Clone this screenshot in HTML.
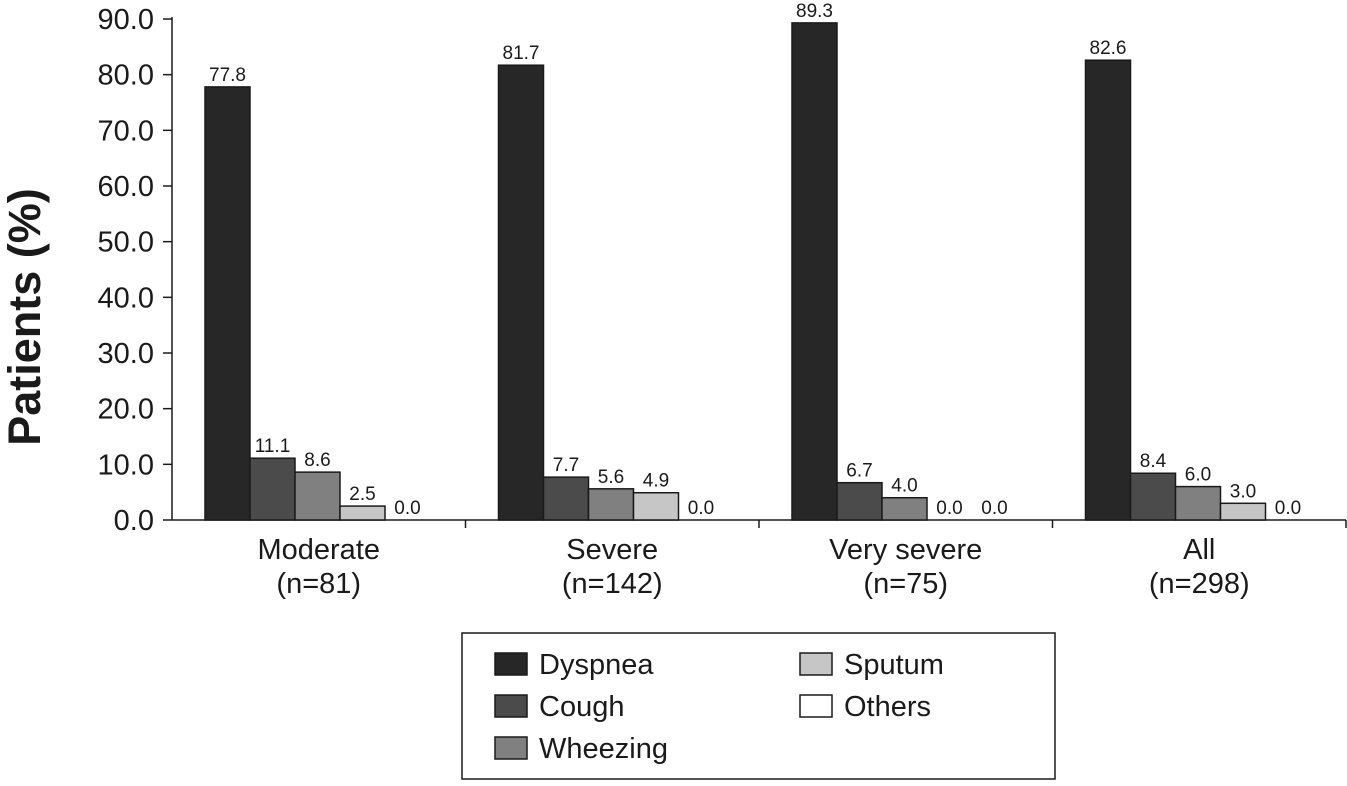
<!DOCTYPE html>
<html><head><meta charset="utf-8"><style>
body{margin:0;background:#fff;}
svg text{font-family:"Liberation Sans",Arial,sans-serif;fill:#1a1a1a;}
</style></head><body>
<svg id="chart" width="1347" height="781" xmlns="http://www.w3.org/2000/svg"></svg>
<script>
const categories=["Moderate","Severe","Very severe","All"];
const categoryN=["(n=81)","(n=142)","(n=75)","(n=298)"];
const seriesNames=["Dyspnea","Cough","Wheezing","Sputum","Others"];
const dyspnea=[77.8,81.7,89.3,82.6];
const cough=[11.1,7.7,6.7,8.4];
const wheezing=[8.6,5.6,4.0,6.0];
const sputum=[2.5,4.9,0.0,3.0];
const others=[0.0,0.0,0.0,0.0];
const yTicks=[0,10,20,30,40,50,60,70,80,90];

const series=[dyspnea,cough,wheezing,sputum,others];
const colors=["#272727","#4b4b4b","#808080","#c6c6c6","#ffffff"];
const NS="http://www.w3.org/2000/svg";
const svg=document.getElementById('chart');
const x0=172,x1=1346,y0=520,yTop=19,yMax=90;
const gw=(x1-x0)/categories.length;
const bw=45,off=33;
const y=v=>y0-(v/yMax)*(y0-yTop);
const xg=i=>x0+i*gw;
function mk(tag,attrs,txt){const e=document.createElementNS(NS,tag);for(const k in attrs)e.setAttribute(k,attrs[k]);if(txt!==undefined)e.textContent=txt;svg.appendChild(e);return e;}

yTicks.forEach(t=>{
  const l=mk('line',{x1:163,x2:x0,y1:y(t),y2:y(t),stroke:'#1a1a1a','stroke-width':1.5});
  
  
  const tx=mk('text',{x:154,y:y(t)+10,'text-anchor':'end','font-size':29},t.toFixed(1));
  
  
});
const ya=mk('line',{x1:x0,x2:x0,y1:yTop-2,y2:y0,stroke:'#1a1a1a','stroke-width':1.5});


const xa=mk('line',{x1:x0,x2:x1,y1:y0,y2:y0,stroke:'#1a1a1a','stroke-width':1.5});


const yt=mk('text',{x:0,y:0,'font-size':45,'font-weight':'bold','text-anchor':'middle',transform:'translate(40,317) rotate(-90)'},'Patients (%)');



categories.forEach((c,i)=>{
  const tk=mk('line',{x1:xg(i+1),x2:xg(i+1),y1:y0,y2:y0+8,stroke:'#1a1a1a','stroke-width':1.5});
  
  
  const cx=xg(i)+gw/2;
  const l1=mk('text',{x:cx,y:559,'text-anchor':'middle','font-size':29},c);
  
  
  const l2=mk('text',{x:cx,y:593,'text-anchor':'middle','font-size':29},categoryN[i]);
  
  
  series.forEach((s,j)=>{
    const v=s[i],bx=xg(i)+off+j*bw;
    if(v>0){
      const r=mk('rect',{x:bx,y:y(v),width:bw,height:y0-y(v),fill:colors[j],stroke:'#1a1a1a','stroke-width':1.5});
      
      
    }
    const vl=mk('text',{x:bx+bw/2,y:y(v)-6,'text-anchor':'middle','font-size':19},v.toFixed(1));
    
    
  });
});

const lg=mk('rect',{x:462,y:633,width:593,height:146,fill:'#fff',stroke:'#1a1a1a','stroke-width':1.5});


const lpos=[[495,664],[495,706],[495,748],[800,664],[800,706]];
seriesNames.forEach((n,j)=>{
  const [lx,ly]=lpos[j];
  const sw=mk('rect',{x:lx,y:ly-11,width:32,height:22,fill:colors[j],stroke:'#1a1a1a','stroke-width':1.5});
  
  
  const t=mk('text',{x:lx+44,y:ly+10,'font-size':29},n);
  
  
});
</script>
</body></html>
